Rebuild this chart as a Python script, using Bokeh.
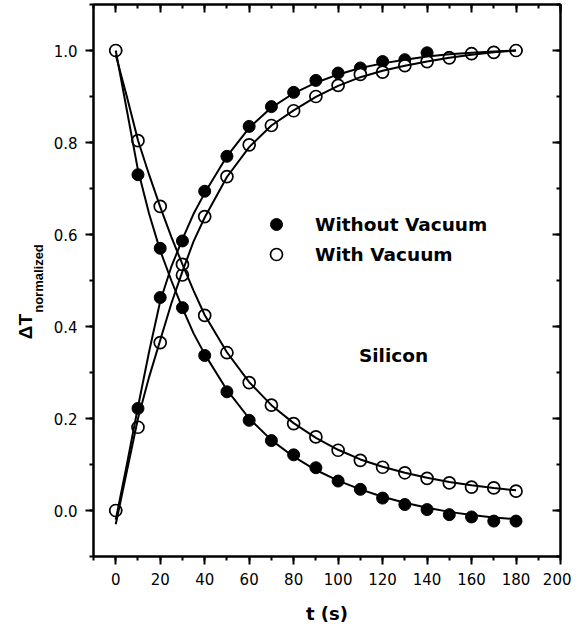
from bokeh.plotting import figure
from bokeh.layouts import row
from bokeh.models import (Range1d, LinearAxis, SingleIntervalTicker, NumeralTickFormatter,
                          Label, Legend, LegendItem, CustomJSTickFormatter)
from bokeh.embed import file_html
from bokeh.resources import INLINE
import math

# ---- data ----
t = [0, 10, 20, 30, 40, 50, 60, 70, 80, 90, 100, 110, 120, 130, 140, 150, 160, 170, 180]
rise_without = [0.0, 0.222, 0.463, 0.586, 0.694, 0.770, 0.835, 0.878, 0.909, 0.935, 0.951,
                0.962, 0.976, 0.980, 0.995, 0.985, 0.993, 0.996, 1.0]
fall_without = [1.0, 0.730, 0.570, 0.441, 0.337, 0.258, 0.196, 0.152, 0.121, 0.093, 0.064,
                0.046, 0.027, 0.013, 0.002, -0.009, -0.014, -0.023, -0.023]
rise_with = [0.0, 0.181, 0.365, 0.512, 0.639, 0.726, 0.795, 0.837, 0.869, 0.900, 0.924,
             0.948, 0.953, 0.967, 0.976, 0.984, 0.993, 0.996, 1.0]
fall_with = [1.0, 0.804, 0.661, 0.535, 0.424, 0.343, 0.278, 0.229, 0.189, 0.160, 0.131,
             0.109, 0.094, 0.082, 0.070, 0.060, 0.051, 0.049, 0.042]

# fitted curves
t_fit = [0, 5, 10, 15, 20, 25, 30, 35, 40, 50, 60, 70, 80, 90, 100, 110, 120, 130, 140, 150, 160, 170, 180]
fit_rise_without = [-0.02, 0.10, 0.225, 0.345, 0.455, 0.53, 0.59, 0.645, 0.69, 0.77, 0.832, 0.876,
                    0.907, 0.93, 0.948, 0.962, 0.972, 0.98, 0.987, 0.992, 0.995, 0.998, 1.0]
fit_rise_with = [-0.03, 0.085, 0.20, 0.29, 0.37, 0.45, 0.52, 0.585, 0.637, 0.725, 0.79, 0.837,
                 0.87, 0.899, 0.923, 0.942, 0.956, 0.967, 0.976, 0.984, 0.991, 0.996, 1.0]
fit_fall_without = [1.0, 0.87, 0.74, 0.645, 0.565, 0.50, 0.44, 0.385, 0.34, 0.262, 0.20, 0.153,
                    0.117, 0.088, 0.065, 0.046, 0.03, 0.017, 0.006, -0.003, -0.01, -0.015, -0.019]
fit_fall_with = [0.99, 0.90, 0.805, 0.73, 0.66, 0.595, 0.535, 0.478, 0.425, 0.344, 0.279, 0.229,
                 0.19, 0.158, 0.132, 0.111, 0.095, 0.082, 0.071, 0.062, 0.055, 0.049, 0.044]

legend_labels = ["Without Vacuum", "With Vacuum"]
x_title = "t (s)"
y_title_main = "ΔT"
y_title_sub = "normalized"
sample_name = "Silicon"

FONT = "Liberation Sans"
WIDE = "DejaVu Sans"

p = figure(frame_width=467, frame_height=552,
           x_range=Range1d(-10, 200), y_range=Range1d(-0.1, 1.1),
           output_backend="svg", toolbar_location=None,
           min_border_left=43, min_border_right=11, min_border_top=4, min_border_bottom=0)
p.grid.visible = False
p.outline_line_color = "black"
p.outline_line_width = 2
p.background_fill_color = "white"
p.border_fill_color = "white"

def style_axis(ax, labels=True):
    ax.axis_line_width = 2
    ax.axis_line_color = "black"
    ax.major_tick_line_width = 2
    ax.minor_tick_line_width = 2
    ax.major_tick_line_color = "black"
    ax.minor_tick_line_color = "black"
    if labels:
        ax.major_tick_out = 8
        ax.major_tick_in = 0
        ax.minor_tick_out = 4
        ax.minor_tick_in = 0
        ax.major_label_text_font = WIDE
        ax.major_label_text_font_size = "15px"
        ax.major_label_text_color = "black"
    else:
        ax.major_tick_out = 0
        ax.major_tick_in = 8
        ax.minor_tick_out = 0
        ax.minor_tick_in = 4
        ax.formatter = CustomJSTickFormatter(code="return ''")
        ax.major_label_text_font_size = "0px"
        ax.major_label_standoff = 0

xa = p.xaxis[0]
xa.ticker = SingleIntervalTicker(interval=20, num_minor_ticks=2)
style_axis(xa)
xa.major_label_standoff = 8
xa.axis_label = x_title
xa.axis_label_text_font = WIDE
xa.axis_label_text_font_style = "bold"
xa.axis_label_text_font_size = "18px"
xa.axis_label_text_color = "black"
xa.axis_label_standoff = 15

ya = p.yaxis[0]
ya.ticker = SingleIntervalTicker(interval=0.2, num_minor_ticks=2)
ya.formatter = NumeralTickFormatter(format="0.0")
style_axis(ya)
ya.major_label_standoff = 8

top = LinearAxis(ticker=SingleIntervalTicker(interval=20, num_minor_ticks=2))
style_axis(top, labels=False)
p.add_layout(top, "above")
right = LinearAxis(ticker=SingleIntervalTicker(interval=0.2, num_minor_ticks=2))
style_axis(right, labels=False)
p.add_layout(right, "right")

# markers: filled first, open (white fill) on top, then fit lines
r_f1 = p.scatter(t, rise_without, size=12, marker="circle", fill_color="black", line_color="black")
p.scatter(t, fall_without, size=12, marker="circle", fill_color="black", line_color="black")
r_o1 = p.scatter(t, rise_with, size=12, marker="circle", fill_color="white", line_color="black", line_width=1.7)
p.scatter(t, fall_with, size=12, marker="circle", fill_color="white", line_color="black", line_width=1.7)

for ys in (fit_rise_without, fit_rise_with, fit_fall_without, fit_fall_with):
    p.line(t_fit, ys, line_color="black", line_width=2)

legend = Legend(items=[LegendItem(label=legend_labels[0], renderers=[r_f1]),
                       LegendItem(label=legend_labels[1], renderers=[r_o1])],
                location=(168, 287), glyph_width=30, glyph_height=30, label_standoff=24,
                padding=0, spacing=0, margin=0,
                border_line_color=None, background_fill_alpha=0,
                label_text_font=WIDE, label_text_font_style="bold", label_text_color="black",
                label_text_font_size="18.5px", label_height=30)
p.add_layout(legend)

p.add_layout(Label(x=124.9, y=0.337, text=sample_name, text_font=WIDE, text_font_style="bold",
                   text_font_size="18.5px", text_color="black",
                   text_align="center", text_baseline="middle"))

# narrow strip on the left holding the rotated y-axis title (pixel coordinates, y downward)
H = 620
q = figure(frame_width=50, frame_height=H, x_range=Range1d(0, 50), y_range=Range1d(H, 0),
           output_backend="svg", toolbar_location=None,
           x_axis_location=None, y_axis_location=None,
           min_border_left=0, min_border_right=0, min_border_top=0, min_border_bottom=0)
q.grid.visible = False
q.outline_line_color = None
q.background_fill_color = "white"
q.border_fill_color = "white"
q.add_layout(Label(x=25, y=322, text=y_title_main, angle=math.pi / 2, text_font=FONT,
                   text_font_style="bold", text_font_size="19px", text_color="black",
                   text_align="center", text_baseline="middle"))
q.add_layout(Label(x=38, y=274, text=y_title_sub, angle=math.pi / 2, text_font=FONT,
                   text_font_style="bold", text_font_size="13px", text_color="black",
                   text_align="center", text_baseline="middle"))

layout = row(q, p, spacing=0)
open("out.html", "w").write(file_html(layout, INLINE))
